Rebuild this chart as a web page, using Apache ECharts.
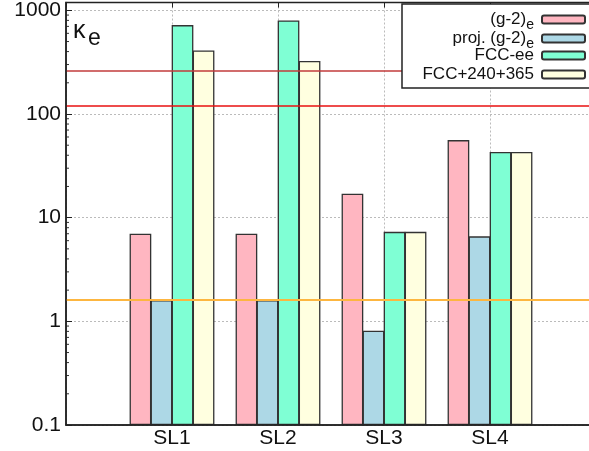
<!DOCTYPE html>
<html>
<head>
<meta charset="utf-8">
<script src="https://cdn.jsdelivr.net/npm/echarts@6/dist/echarts.min.js"></script>
<style>html,body{margin:0;padding:0;background:#fff;}#c{width:589px;height:451px;}</style>
</head>
<body>
<div id="c"></div>
<script>
const categories = ['SL1', 'SL2', 'SL3', 'SL4'];
const seriesNames = ['(g-2)_e', 'proj. (g-2)_e', 'FCC-ee', 'FCC+240+365'];
const g2e = [7.0, 7.0, 17, 56];
const projG2e = [1.6, 1.6, 0.81, 6.6];
const fccee = [720, 800, 7.3, 43];
const fcc240365 = [410, 325, 7.3, 43];
const refLines = [260, 120, 1.63];
const yTickLabels = ['0.1', '1', '10', '100', '1000'];
const yTickValues = [0.1, 1, 10, 100, 1000];
const minorTicks = [0.2,0.3,0.4,0.5,0.6,0.7,0.8,0.9, 2,3,4,5,6,7,8,9, 20,30,40,50,60,70,80,90, 200,300,400,500,600,700,800,900];

const colors = ['#FFB6C1', '#ADD8E6', '#7FFFD4', '#FFFFE0'];
const values = [g2e, projG2e, fccee, fcc240365];
const FONT = 'Liberation Sans, Arial, Helvetica, sans-serif';

function legendLabel(name) {
  if (name.endsWith('_e')) return name.slice(0, -2) + '{s|e}';
  return name;
}

const chart = echarts.init(document.getElementById('c'), null, {renderer: 'canvas'});

const series = values.map((vals, i) => ({
  name: seriesNames[i],
  type: 'bar',
  xAxisIndex: 0,
  yAxisIndex: 0,
  barGap: '-3%',
  barCategoryGap: '20%',
  data: vals.map((v, j) => [j + 1, v]),
  itemStyle: {color: colors[i], borderColor: '#333', borderWidth: 1.3},
  emphasis: {disabled: true},
  z: 2
}));

series[0].markLine = {
  silent: true,
  symbol: 'none',
  label: {show: false},
  z: 3,
  data: [
    {yAxis: refLines[0], lineStyle: {color: '#C23B3B', width: 1.5, type: 'solid'}},
    {yAxis: refLines[1], lineStyle: {color: '#E81010', width: 1.5, type: 'solid'}},
    {yAxis: refLines[2], lineStyle: {color: '#FDB640', width: 2, type: 'solid'}}
  ]
};

series.push({
  type: 'custom',
  silent: true,
  xAxisIndex: 0,
  yAxisIndex: 0,
  z: 5,
  data: minorTicks.map(v => [0, v]),
  renderItem: function (params, api) {
    const p = api.coord([api.value(0), api.value(1)]);
    return {type: 'line', shape: {x1: p[0], y1: p[1], x2: p[0] + 3, y2: p[1]},
      style: {stroke: '#333', lineWidth: 1}};
  }
});

const legendTops = [11, 30, 47, 66];
const legends = seriesNames.map((n, i) => ({
  data: [n],
  right: 3,
  top: legendTops[i],
  padding: 0,
  itemWidth: 43,
  itemHeight: 8,
  align: 'right',
  selectedMode: false,
  z: 10,
  formatter: legendLabel,
  textStyle: {
    fontFamily: FONT, fontSize: 17, color: '#111', padding: [0, 3, 0, 0],
    rich: {s: {fontFamily: FONT, fontSize: 14, color: '#111', padding: [11, 0, 0, 0]}}
  }
}));

const option = {
  animation: false,
  backgroundColor: '#fff',
  textStyle: {fontFamily: FONT},
  grid: {left: 66, top: 2.5, width: 530, height: 422.5, outerBoundsMode: 'none', containLabel: false,
    show: true, borderColor: '#222', borderWidth: 1.5, backgroundColor: 'transparent', z: 6},
  legend: legends,
  graphic: [
    {type: 'rect', z: 8, shape: {x: 402, y: 4, width: 200, height: 84},
      style: {fill: '#fff', stroke: '#222', lineWidth: 1.5}},
    {type: 'text', z: 9, left: 73, top: 19, style: {text: 'κ', font: '25px ' + FONT, fill: '#111'}},
    {type: 'text', z: 9, left: 88, top: 27, style: {text: 'e', font: '23px ' + FONT, fill: '#111'}}
  ],
  xAxis: [{
    type: 'value', min: 0, max: 5, interval: 1,
    axisLine: {show: true, lineStyle: {color: '#222', width: 1.5}},
    axisTick: {show: false},
    axisLabel: {fontFamily: FONT, fontSize: 21, color: '#111', margin: 3,
      formatter: v => (Number.isInteger(v) && v >= 1 && v <= categories.length) ? categories[v - 1] : ''},
    splitLine: {show: true, lineStyle: {color: '#bbb', type: [2, 2], width: 1}}
  }, {
    type: 'value', min: 0, max: 5, interval: 1, position: 'top',
    axisLine: {show: false},
    axisTick: {show: true, inside: true, length: 5, lineStyle: {color: '#222'}},
    axisLabel: {show: false},
    splitLine: {show: false}
  }],
  yAxis: {
    type: 'log', logBase: 10, min: 0.1, max: 1190, startValue: 0.1,
    axisLine: {show: true, lineStyle: {color: '#222', width: 1.5}},
    axisTick: {show: true, inside: true, length: 6, lineStyle: {color: '#222'}},
    axisLabel: {fontFamily: FONT, fontSize: 21, color: '#111', margin: 5, showMaxLabel: false,
      padding: [3, 0, 0, 0],
      formatter: function (v) {
        for (let i = 0; i < yTickValues.length; i++) {
          if (Math.abs(Math.log10(v) - Math.log10(yTickValues[i])) < 1e-6) return yTickLabels[i];
        }
        return '';
      }},
    splitLine: {show: true, lineStyle: {color: '#bbb', type: [2, 2], width: 1}}
  },
  series: series
};
chart.setOption(option);
</script>
</body>
</html>
